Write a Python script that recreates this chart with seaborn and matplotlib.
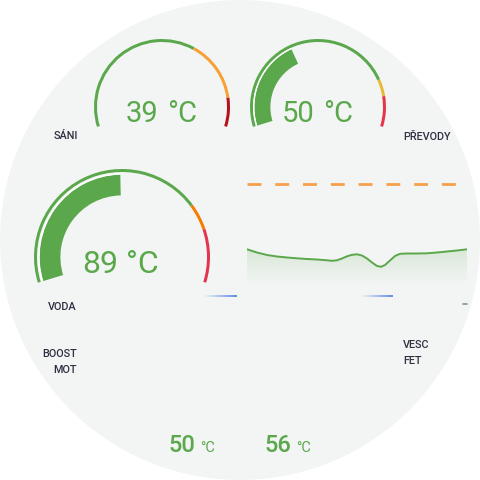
import numpy as np
import pandas as pd
import seaborn as sns
import matplotlib.pyplot as plt
from matplotlib.patches import Wedge, Arc, Circle, Polygon

sns.set_style("white")
plt.rcParams['font.family'] = ['Roboto', 'DejaVu Sans']

# gauge data
gauge_names = ["SÁNI", "PŘEVODY", "VODA"]
gauge_values = [39, 50, 89]
gauge_min = [40, 0, 0]
gauge_max = [100, 130, 180]
gauge_warn = [78, 105, 135]
gauge_crit = [93, 114, 150]

# history of the small line chart
history_sec = [0, 10, 20, 30, 40, 50, 60, 70, 80, 85, 90, 95, 100, 105, 110, 115,
               120, 125, 130, 134, 138, 143, 148, 153, 160, 170, 180, 190, 200, 210, 220]
history_temp = [55.35, 53.75, 52.5, 51.75, 51.25, 50.85, 50.5, 50.25, 49.85, 49.6,
                49.85, 50.75, 51.85, 52.6, 52.85, 52.25, 50.75, 48.75, 47.0, 46.6,
                47.5, 49.75, 52.0, 53.1, 53.25, 53.25, 53.35, 53.75, 54.25, 54.75, 55.35]
history_limit = 88

# bottom sensors
sensor_names = ["BOOST\nMOT", "VESC\nFET"]
sensor_values = [50, 56]

GREEN = '#5aa84b'
DARK = '#2c3040'

# layout / style
g_center = [(162, 107), (318, 107), (122, 257)]
g_radius = [68, 68, 88]
g_colors = [('#f6a035', '#b3111d'), ('#e8b83a', '#e5354b'), ('#f57c00', '#e33550')]
g_font = [21, 21, 23]
g_label_pos = [(54, 139), (403, 140), (48, 310)]

START, SPAN = 197, 214


def frac(v, lo, hi):
    return float(np.clip((v - lo) / (hi - lo), 0, 1))


def ang(f):
    return START - SPAN * f


fig = plt.figure(figsize=(4.8, 4.8), dpi=100)
fig.patch.set_facecolor('white')
ax = fig.add_axes([0, 0, 1, 1])
ax.set_xlim(0, 480)
ax.set_ylim(480, 0)
ax.axis('off')

ax.add_patch(Circle((240, 240), 240, facecolor='#f3f5f4', edgecolor='none', zorder=0))

for i, name in enumerate(gauge_names):
    cx, cy = g_center[i]
    r = g_radius[i]
    lo, hi = gauge_min[i], gauge_max[i]
    fw = frac(gauge_warn[i], lo, hi)
    fc = frac(gauge_crit[i], lo, hi)
    segs = [(0, fw, GREEN), (fw, fc, g_colors[i][0]), (fc, 1, g_colors[i][1])]
    for a, b, col in segs:
        # y axis is flipped, so angles are negated
        ax.add_patch(Wedge((cx, cy), r, -ang(a), -ang(b), width=3,
                           facecolor=col, edgecolor='none', zorder=2))
    fv = frac(gauge_values[i], lo, hi)
    if fv > 0:
        ax.add_patch(Wedge((cx, cy), r * 0.935, -START, -ang(fv),
                           width=r * (0.935 - 0.70), facecolor=GREEN,
                           edgecolor='none', zorder=2))
        ax.add_patch(Arc((cx, cy), 2 * r * 0.945, 2 * r * 0.945, theta1=-START,
                         theta2=-ang(fv), color='white', lw=0.9, zorder=3))
    big = r > 80
    base = cy + (16 if big else 15)
    ax.text(cx - (40 if big else 36), base, str(gauge_values[i]), ha='left', va='baseline',
            fontsize=g_font[i], color=GREEN, zorder=4)
    ax.text(cx + (4 if big else 5), base, "°C", ha='left', va='baseline',
            fontsize=g_font[i], color=GREEN, zorder=4)
    lx, ly = g_label_pos[i]
    ax.text(lx, ly, name, ha='left', va='baseline', fontsize=7.8, color=DARK,
            fontweight='medium', zorder=4)

# sensor labels and bottom readings
for (x, ha), name in zip([(77, 'right'), (403, 'left')], sensor_names):
    top, bottom = name.split("\n")
    y0 = 357 if ha == 'right' else 348
    ax.text(x, y0, top, ha=ha, va='baseline', fontsize=7.8, color=DARK, fontweight='medium')
    ax.text(x, y0 + 16, bottom, ha=ha, va='baseline', fontsize=7.8, color=DARK,
            fontweight='medium')
for x0, v in zip([168, 264], sensor_values):
    ax.text(x0, 452, str(v), ha='left', va='baseline', fontsize=17,
            color=GREEN, fontweight='medium')
    ax.text(x0 + 32, 452, "°C", ha='left', va='baseline', fontsize=10.5, color=GREEN)

# faint axis remnants
for x0, x1, y0 in [(205, 237, 295.5), (362, 393, 295.5)]:
    n = 12
    xs = np.linspace(x0, x1, n + 1)
    for k in range(n):
        ax.plot(xs[k:k + 2], [y0, y0], color='#4a7de0', lw=1.2,
                alpha=(k + 1) / n, solid_capstyle='butt', zorder=2)
ax.plot([463, 467], [304, 304], color='#7f8fa8', lw=1.2, zorder=2)

# line chart
lax = fig.add_axes([247 / 480, (480 - 300) / 480, 220 / 480, 130 / 480])
lax.patch.set_alpha(0)
df = pd.DataFrame({'t': history_sec, 'temp': history_temp})
sns.lineplot(data=df, x='t', y='temp', ax=lax, color=GREEN, lw=1.4)
lax.axhline(history_limit, color='#f7a04b', lw=2, dashes=(5, 5))
lax.set_xlim(history_sec[0], history_sec[-1])
lax.set_ylim(30, 95)
lax.axis('off')

floor = 37.5
xs = df['t'].to_numpy(dtype=float)
ys = df['temp'].to_numpy()
poly = Polygon(np.column_stack([np.r_[xs, xs[::-1]], np.r_[ys, np.full_like(ys, floor)]]),
               closed=True, facecolor='none', edgecolor='none')
lax.add_patch(poly)
grad = np.zeros((100, 2, 4))
grad[..., 0:3] = np.array([90, 168, 75]) / 255
grad[..., 3] = np.linspace(0.17, 0.0, 100)[:, None]
im = lax.imshow(grad, extent=[xs[0], xs[-1], floor, ys.max()], origin='upper',
                aspect='auto', zorder=1)
im.set_clip_path(poly)

fig.savefig('out.png', dpi=100, facecolor='white')
